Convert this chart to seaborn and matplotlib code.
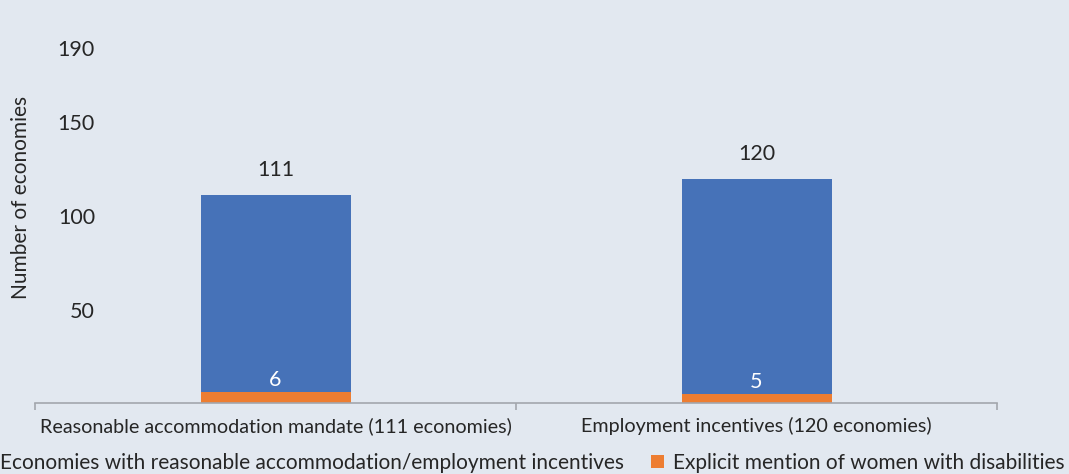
import matplotlib
matplotlib.use("Agg")
import matplotlib.pyplot as plt
from matplotlib.patches import Patch
import seaborn as sns
import pandas as pd

categories = ["Reasonable accommodation mandate (111 economies)",
              "Employment incentives (120 economies)"]
totals = [111, 120]
women = [6, 5]
series_names = ["Economies with reasonable accommodation/employment incentives",
                "Explicit mention of women with disabilities"]
yticks = [50, 100, 150, 190]

BG = "#e2e8f0"
BLUE = "#4672b8"
ORANGE = "#ed7d31"
TXT = "#262626"

sns.set_theme(style="white")
plt.rcParams['font.family'] = ['Lato', 'DejaVu Sans']

df = pd.DataFrame({"category": categories, "total": totals, "women": women})

fig = plt.figure(figsize=(10.69, 4.74), dpi=100, facecolor=BG)
ax = fig.add_axes([35/1069, 71/474, 962/1069, 374/474])
ax.set_facecolor(BG)

bw = 150/481
sns.barplot(data=df, x="category", y="total", color=BLUE, width=bw, ax=ax,
            saturation=1, edgecolor="none")
sns.barplot(data=df, x="category", y="women", color=ORANGE, width=bw, ax=ax,
            saturation=1, edgecolor="none")

ax.set_xlim(-0.5, 1.5)
ax.set_ylim(0, 200)

fs_num = 15.5
for i, (t, w) in enumerate(zip(totals, women)):
    ax.annotate(str(t), (i, t), xytext=(0, 18), textcoords="offset points",
                ha="center", va="center", fontsize=fs_num, color=TXT)
    ax.annotate(str(w), (i, w), xytext=(0, 8.6), textcoords="offset points",
                ha="center", va="center", fontsize=fs_num, color="white")

for s in ["top", "right", "left"]:
    ax.spines[s].set_visible(False)
ax.spines["bottom"].set_color("#a3a7ad")
ax.spines["bottom"].set_linewidth(1.2)

ax.set_yticks(yticks)
ax.set_yticklabels([str(v) for v in yticks], fontsize=fs_num, color=TXT)
ax.tick_params(axis="y", length=0, pad=-43.2)
ax.set_ylabel("Number of economies", fontsize=15, color=TXT)
ax.yaxis.set_label_coords((31-35)/962, (403-197)/374)

ax.set_xlabel("")
ax.set_xticks([0, 1])
ax.set_xticklabels(categories, fontsize=14.2, color=TXT)
ax.tick_params(axis="x", which="major", length=0, pad=10)
ax.set_xticks([-0.5, 0.5, 1.5], minor=True)
ax.tick_params(axis="x", which="minor", length=5, width=1.2, color="#a3a7ad",
               direction="out", bottom=True)

handles = [Patch(facecolor=BLUE, edgecolor="none"),
           Patch(facecolor=ORANGE, edgecolor="none")]
fig.legend(handles, series_names, loc="center left", ncol=2,
           bbox_to_anchor=(-21/1069, 11/474), frameon=False, fontsize=15,
           handlelength=0.62, handleheight=0.62, handletextpad=0.4,
           columnspacing=1.3, borderpad=0, borderaxespad=0,
           labelcolor=TXT)

fig.savefig("out.png", dpi=100, facecolor=BG)
